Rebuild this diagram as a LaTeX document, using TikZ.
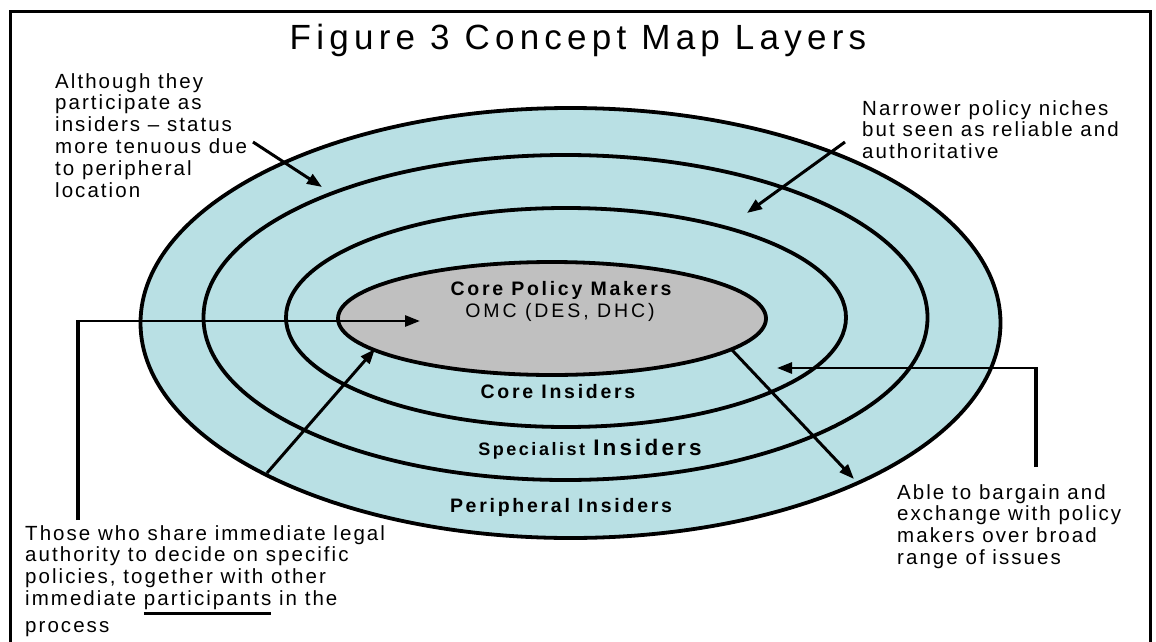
\documentclass[tikz,border=0pt]{standalone}
\usepackage{fontspec}
\setmainfont{Liberation Sans}[LetterSpace=10]
\usetikzlibrary{arrows.meta,shapes.geometric}
\definecolor{ringblue}{RGB}{185,224,228}
\definecolor{coregrey}{RGB}{192,192,192}
\newsavebox\ulbox
\newcommand\thickul[1]{\sbox\ulbox{#1}\rlap{\rule[-9.5pt]{\wd\ulbox}{3pt}}\usebox\ulbox}
\tikzset{
  ring/.style={ellipse, draw=black, line width=3.8pt, fill=ringblue, inner sep=0pt},
  core/.style={ellipse, draw=black, line width=3.8pt, fill=coregrey, inner sep=0pt},
  note/.style={inner sep=0pt, align=left, anchor=north west, font=\fontsize{20.5}{21.8}\selectfont},
  lbl/.style={inner sep=0pt, anchor=base, font=\bfseries\fontsize{19.5}{21}\selectfont\addfontfeatures{LetterSpace=14}},
  pointer/.style={line width=3pt, -{Triangle[length=15pt,width=11pt]}},
  stem/.style={line width=4pt},
  arm/.style={line width=2.7pt, -{Triangle[length=15pt,width=11pt]}},
}
\begin{document}
\begin{tikzpicture}[x=1pt,y=-1pt]
\useasboundingbox (0,0) rectangle (1156,642);
\clip (0,0) rectangle (1156,642);
% frame
\draw[line width=3pt] (10,680) -- (10,12) -- (1150,12) -- (1150,680);
% title
\node[inner sep=0pt, anchor=base, font=\fontsize{35}{40}\selectfont\addfontfeatures{LetterSpace=15}] (title) at (578,50) {Figure 3 Concept Map Layers};
% rings
\node[ring, minimum width=860pt, minimum height=430pt] (outer) at (570.5,323) {};
\node[ring, minimum width=724pt, minimum height=325pt] (spec) at (565.5,317.5) {};
\node[ring, minimum width=560pt, minimum height=219pt] (coreins) at (566,317.5) {};
\node[core, minimum width=428pt, minimum height=113pt] (cpm) at (552,318.5) {};
% ring labels
\node[lbl] (cpmtxt) at (561,295) {Core Policy Makers};
\node[lbl, font=\fontsize{19.5}{21}\selectfont\addfontfeatures{LetterSpace=15}] (omc) at (560,317) {OMC (DES, DHC)};
\node[lbl] (citxt) at (558,398) {Core Insiders};
\node[lbl] (sitxt) at (590,455) {{\fontsize{18}{21}\selectfont Specialist} {\fontsize{22.5}{23}\selectfont Insiders}};
\node[lbl] (pitxt) at (561,512) {Peripheral Insiders};
% notes
\node[note] (n1) at (55,73) {Although they\\participate as\\insiders -- status\\more tenuous due\\to peripheral\\location};
\node[note] (n2) at (862,100) {Narrower policy niches\\but seen as reliable and\\authoritative};
\node[note] (n3) at (25,525) {Those who share immediate legal\\authority to decide on specific\\policies, together with other\\immediate \thickul{participants} in the\\[5pt]process};
\node[note] (n4) at (897,484) {Able to bargain and\\exchange with policy\\makers over broad\\range of issues};
% connector coordinates
\coordinate (a1s) at (253,142);
\coordinate (a1t) at (322,187);
\coordinate (a2s) at (845,142);
\coordinate (a2t) at (747,213);
\coordinate (lb) at (78,520);
\coordinate (lc) at (78,321);
\coordinate (lt) at (420,321);
\coordinate (a4s) at (267,473);
\coordinate (a4t) at (375,349);
\coordinate (rb) at (1036,467);
\coordinate (rc) at (1036,368);
\coordinate (rt) at (777,368);
\coordinate (a6s) at (732,350);
\coordinate (a6t) at (854,479);
% connectors
\draw[pointer] (a1s) -- (a1t);
\draw[pointer] (a2s) -- (a2t);
\draw[stem] (lb) -- (lc);
\draw[arm] ([xshift=-2pt]lc) -- (lt);
\draw[pointer] (a4s) -- (a4t);
\draw[stem] (rb) -- (rc);
\draw[arm] ([xshift=2pt]rc) -- (rt);
\draw[pointer] (a6s) -- (a6t);
\end{tikzpicture}
\end{document}
